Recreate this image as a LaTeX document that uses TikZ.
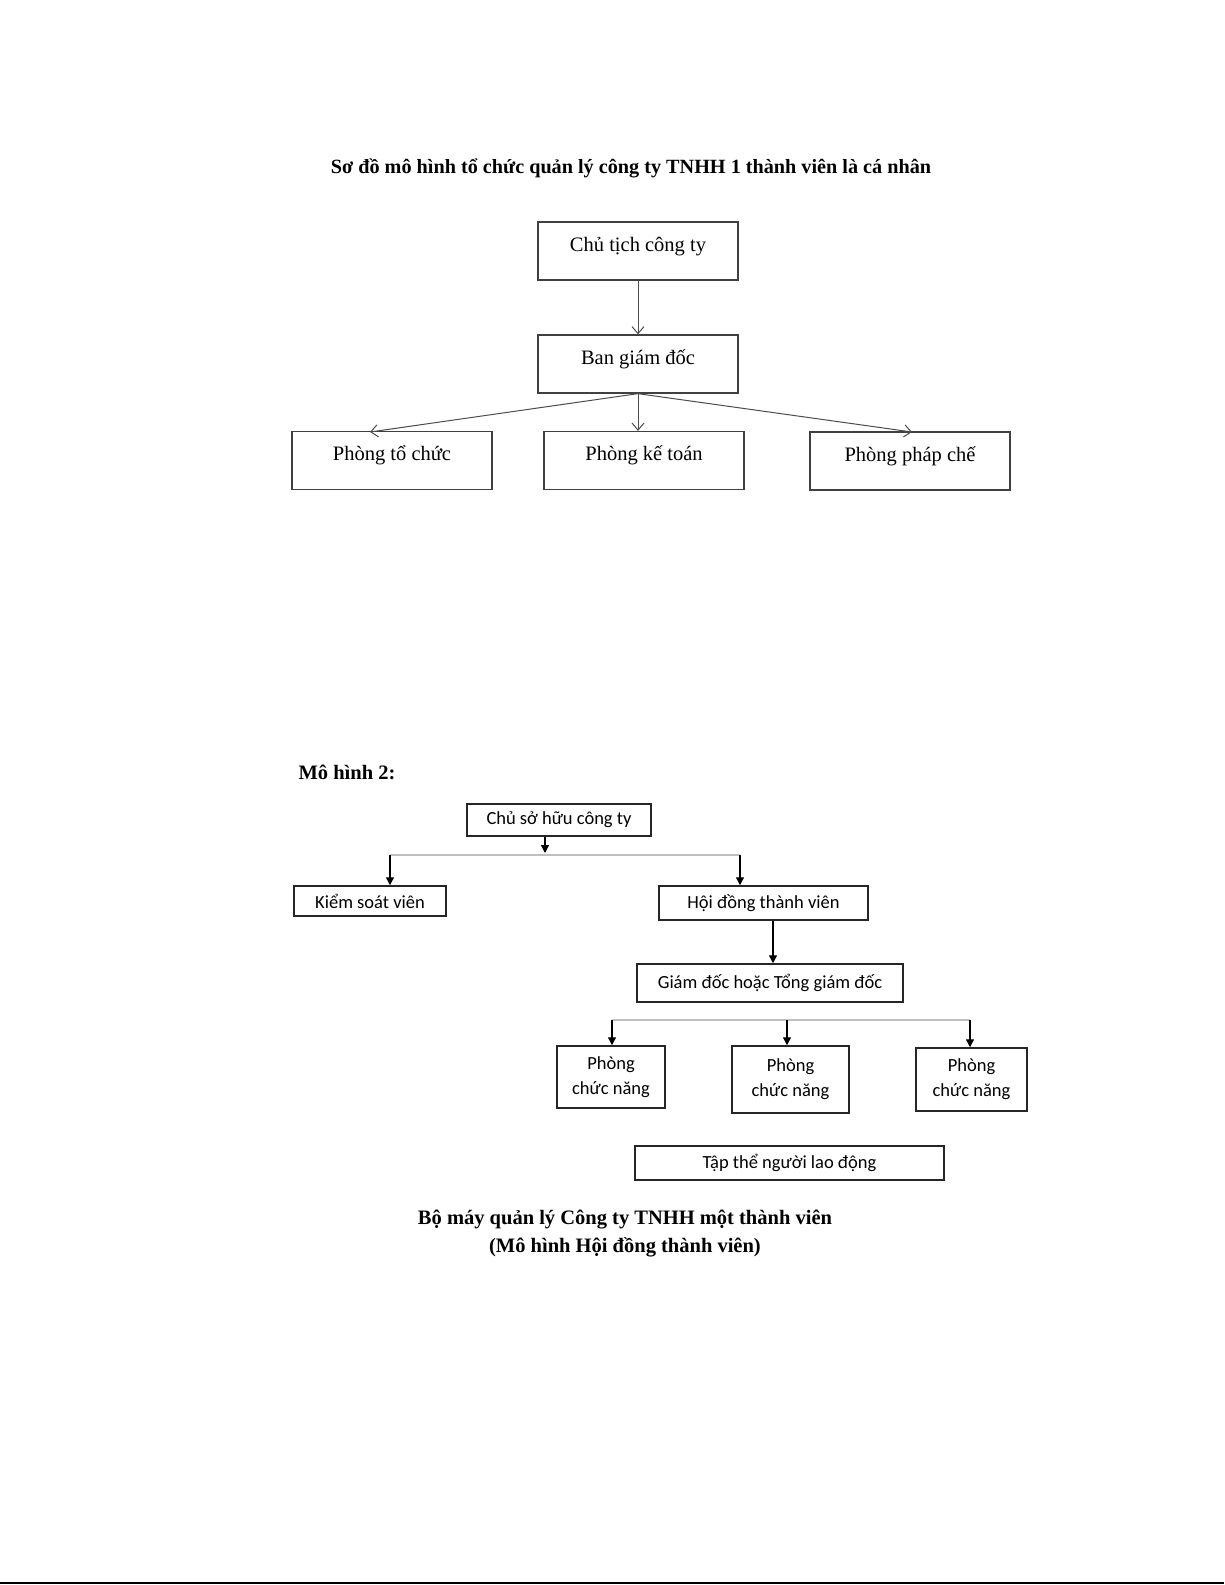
\documentclass[tikz,border=0pt]{standalone}
\usepackage{fontspec}
\setmainfont{Liberation Serif}
\newfontfamily\calfont{Carlito}
\usetikzlibrary{arrows.meta}
\begin{document}
\begin{tikzpicture}[x=1pt,y=-1pt,
 boxa/.style={draw=black!75, line width=1.3pt, minimum width=200pt, minimum height=58pt, inner sep=0pt, font=\fontsize{20.5}{23}\selectfont, text height=11pt, text depth=11pt},
 boxb/.style={draw=black!85, line width=1.5pt, inner sep=0pt, font=\calfont\fontsize{18.5}{21}\selectfont},
 boxc/.style={boxb, align=center, font=\calfont\fontsize{18.5}{25}\selectfont},
 arra/.style={draw=black!70, line width=1pt, -{Straight Barb[length=7pt,width=12pt]}},
 arrb/.style={line width=1.3pt, -{Triangle[length=8pt,width=8pt]}},
 hline/.style={draw=black!25, line width=1.2pt},
 ttl/.style={font=\bfseries\fontsize{20.5}{28}\selectfont}]
\useasboundingbox (0,0) rectangle (1225,1585);
\fill[white] (0,0) rectangle (1225,1585);
% ---------- model 1 ----------
\node[ttl, font=\bfseries\fontsize{20.2}{24}\selectfont] (title) at (631,168) {Sơ đồ mô hình tổ chức quản lý công ty TNHH 1 thành viên là cá nhân};
\node[boxa] (chu) at (638,251) {Chủ tịch công ty};
\node[boxa] (ban) at (638,364) {Ban giám đốc};
\node[boxa] (pto) at (392,460.5) {Phòng tổ chức};
\node[boxa] (pke) at (644,460.5) {Phòng kế toán};
\node[boxa] (pph) at (910,461) {Phòng pháp chế};
\coordinate (ptoin) at (370,432);
\coordinate (pphin) at (912,432);
\draw[arra] (chu.south) -- (ban.north);
\draw[arra] (ban.south) -- (ptoin);
\draw[arra] (ban.south) -- (ban.south |- pke.north);
\draw[arra] (ban.south) -- (pphin);
% ---------- model 2 ----------
\node[ttl, anchor=west] (m2) at (295,772) {Mô hình 2:};
\node[boxb, minimum width=184pt, minimum height=32pt] (cso) at (559,820) {Chủ sở hữu công ty};
\coordinate (j1) at (545,853);
\draw[arrb] (cso.south -| j1) -- (j1);
\coordinate (hl) at (390,855);
\coordinate (hr) at (740,855);
\draw[hline] (hl) -- (hr);
\node[boxb, minimum width=152pt, minimum height=30pt] (ksv) at (370,901) {Kiểm soát viên};
\node[boxb, minimum width=209pt, minimum height=34pt] (hdtv) at (763.5,903) {Hội đồng thành viên};
\draw[arrb] (hl) -- (hl |- ksv.north);
\draw[arrb] (hr) -- (hr |- hdtv.north);
\node[boxb, minimum width=266pt, minimum height=38pt] (gd) at (770,983) {Giám đốc hoặc Tổng giám đốc};
\coordinate (gx) at (773,0);
\draw[arrb] (hdtv.south -| gx) -- (gd.north -| gx);
\coordinate (l1) at (612,1020);
\coordinate (l2) at (787,1020);
\coordinate (l3) at (970,1020);
\draw[hline] (l1) -- (l3);
\node[boxc, minimum width=108pt, minimum height=62pt] (pc1) at (611,1077) {Phòng\\chức năng};
\node[boxc, minimum width=117pt, minimum height=67pt] (pc2) at (790.5,1079.5) {Phòng\\chức năng};
\node[boxc, minimum width=111pt, minimum height=63pt] (pc3) at (971.5,1079.5) {Phòng\\chức năng};
\draw[arrb] (l1) -- (l1 |- pc1.north);
\draw[arrb] (l2) -- (l2 |- pc2.north);
\draw[arrb] (l3) -- (l3 |- pc3.north);
\node[boxb, minimum width=309pt, minimum height=34pt] (tap) at (789.5,1163) {Tập thể người lao động};
\node[ttl, align=center] (cap) at (625,1234) {Bộ máy quản lý Công ty TNHH một thành viên\\(Mô hình Hội đồng thành viên)};
% bottom rule
\coordinate (r1) at (0,1583);
\coordinate (r2) at (1224,1583);
\draw[line width=2pt] (r1) -- (r2);
\end{tikzpicture}
\end{document}
